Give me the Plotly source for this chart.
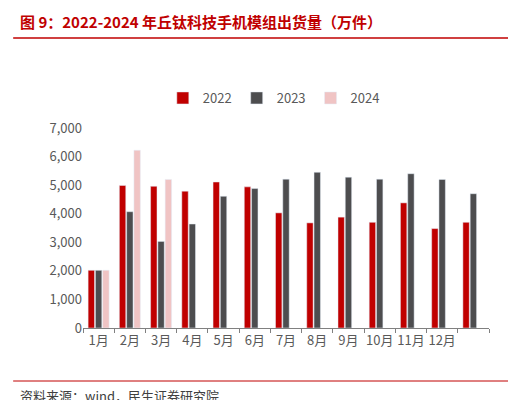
import plotly.graph_objects as go

cats = ["1月", "2月", "3月", "4月", "5月", "6月", "7月", "8月", "9月", "10月", "11月", "12月", " "]
v2022 = [2020, 4990, 4960, 4790, 5110, 4940, 4030, 3680, 3880, 3700, 4380, 3480, 3700]
v2023 = [2020, 4070, 3030, 3640, 4610, 4880, 5210, 5450, 5280, 5210, 5400, 5200, 4700]
v2024 = [2020, 6220, 5200, None, None, None, None, None, None, None, None, None, None]

font = "Noto Sans CJK SC"
fig = go.Figure()
fig.add_bar(x=cats, y=v2022, name="2022", marker_color="#C00000")
fig.add_bar(x=cats, y=v2023, name="2023", marker_color="#4D4D4F")
fig.add_bar(x=cats, y=v2024, name="2024", marker_color="#F0C4C4")

fig.update_layout(
    width=516, height=400,
    paper_bgcolor="white", plot_bgcolor="white",
    margin=dict(l=75, r=35, t=120, b=80),
    barmode="group", bargap=0.3, bargroupgap=0.12,
    font=dict(family=font, size=13, color="#595959"),
    showlegend=True,
    legend=dict(orientation="h", x=0.47, xanchor="center", y=1.15, yanchor="middle",
                font=dict(size=13, color="#595959")),
    xaxis=dict(showline=True, linecolor="#808080", ticks="outside", tickcolor="#808080",
               ticklen=4, tickson="boundaries", tickangle=0),
    yaxis=dict(range=[0, 7000], dtick=1000, tickformat=",", showgrid=False,
               zeroline=False, ticks=""),
)
fig.add_annotation(text="<b>图 9：2022-2024 年丘钛科技手机模组出货量（万件）</b>", xref="paper", yref="paper",
                   x=-0.16, y=1.47, xanchor="left", yanchor="bottom",
                   showarrow=False, font=dict(size=15, color="#C00000", family=font))
fig.add_shape(type="line", xref="paper", yref="paper", x0=-0.172, x1=1.074, y0=1.45, y1=1.45,
              line=dict(color="#C00000", width=1.5))
fig.add_shape(type="line", xref="paper", yref="paper", x0=-0.172, x1=1.074, y0=-0.265, y1=-0.265,
              line=dict(color="#C00000", width=1))
fig.add_annotation(text="资料来源：wind，民生证券研究院", xref="paper", yref="paper",
                   x=-0.16, y=-0.28, xanchor="left", yanchor="top",
                   showarrow=False, font=dict(size=13, color="#404040", family=font))
fig.write_html("out.html")
